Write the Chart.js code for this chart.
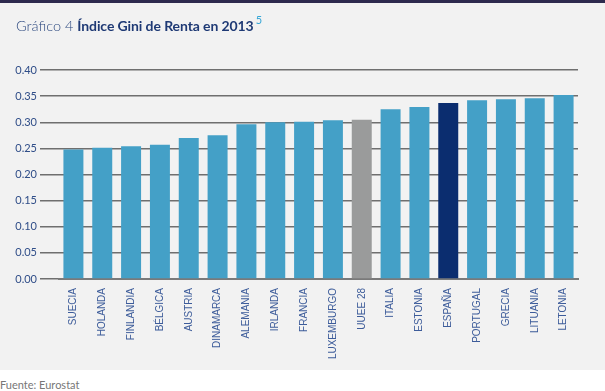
<!DOCTYPE html>
<html>
<head>
<meta charset="utf-8">
<script src="https://cdn.jsdelivr.net/npm/chart.js@4"></script>
<style>
  html, body { margin:0; padding:0; background:#ffffff; width:605px; height:391px; overflow:hidden; }
  #topbar { position:absolute; left:0; top:0; width:605px; height:3px; background:#2d2a4e; }
  #card { position:absolute; left:0; top:3px; width:605px; height:367px; background:#f2f2f2; }
  #wrap { position:absolute; left:0; top:0; width:605px; height:370px; }
  #title { position:absolute; left:16px; top:14px; font-family:Lato, sans-serif; font-size:14.5px; color:#2e4a80; white-space:nowrap; }
  #title .light { font-weight:300; }
  #title b { font-weight:700; color:#1f3a75; font-size:14px; letter-spacing:-0.1px; }
  #title sup { font-size:11px; color:#36a6d6; font-weight:400; position:relative; top:-1px; margin-left:2px; }
  #foot { position:absolute; left:0; top:378px; font-family:Lato, sans-serif; font-size:11px; color:#777777; }
</style>
</head>
<body>
<div id="topbar"></div>
<div id="card"></div>
<div id="wrap"><canvas id="c" width="605" height="370"></canvas></div>
<div id="title"><span class="light">Gráfico 4 </span><b>Índice Gini de Renta en 2013</b><sup>5</sup></div>
<div id="foot">Fuente: Eurostat</div>
<script>
const categories = ["SUECIA","HOLANDA","FINLANDIA","BÉLGICA","AUSTRIA","DINAMARCA","ALEMANIA","IRLANDA","FRANCIA","LUXEMBURGO","UUEE 28","ITALIA","ESTONIA","ESPAÑA","PORTUGAL","GRECIA","LITUANIA","LETONIA"];
const giniValues = [0.248,0.251,0.254,0.257,0.270,0.275,0.296,0.300,0.301,0.304,0.305,0.325,0.329,0.337,0.342,0.344,0.346,0.352];
const yTicks = [0.00,0.05,0.10,0.15,0.20,0.25,0.30,0.35,0.40];

const colorDefault = "#44a0c7";
const colorEU = "#9a9b9b";
const colorSpain = "#0b2d6f";
const barColors = categories.map(c => c === "UUEE 28" ? colorEU : (c === "ESPAÑA" ? colorSpain : colorDefault));

new Chart(document.getElementById("c"), {
  type: "bar",
  data: {
    labels: categories,
    datasets: [{
      data: giniValues,
      backgroundColor: barColors,
      borderWidth: 0,
      categoryPercentage: 1.0,
      barPercentage: 0.693
    }]
  },
  options: {
    responsive: false,
    animation: false,
    devicePixelRatio: 1,
    layout: { padding: { top: 70, right: 27, left: 0, bottom: 0 } },
    plugins: { legend: { display: false }, tooltip: { enabled: false }, title: { display: false } },
    scales: {
      x: {
        grid: { display: false, drawTicks: false },
        border: { display: true, color: "#7a7a7a", width: 2 },
        ticks: {
          autoSkip: false, maxRotation: 90, minRotation: 90, padding: 9,
          color: "#3d5c9a",
          font: { family: "'Liberation Sans', Arial, sans-serif", size: 10 }
        },
        afterFit: s => { s.height = 91; }
      },
      y: {
        min: 0, max: 0.4,
        afterBuildTicks: s => { s.ticks = yTicks.map(v => ({ value: v })); },
        grid: { color: "#6f6f6f", lineWidth: 1.5, drawTicks: true, tickLength: 19, tickColor: "#6f6f6f", tickWidth: 1.5 },
        border: { display: false },
        ticks: {
          padding: 3,
          color: "#2f4d88",
          font: { family: "Lato, sans-serif", size: 11 },
          callback: v => Number(v).toFixed(2)
        },
        afterFit: s => { s.width = 59; }
      }
    }
  }
});
</script>
</body>
</html>
